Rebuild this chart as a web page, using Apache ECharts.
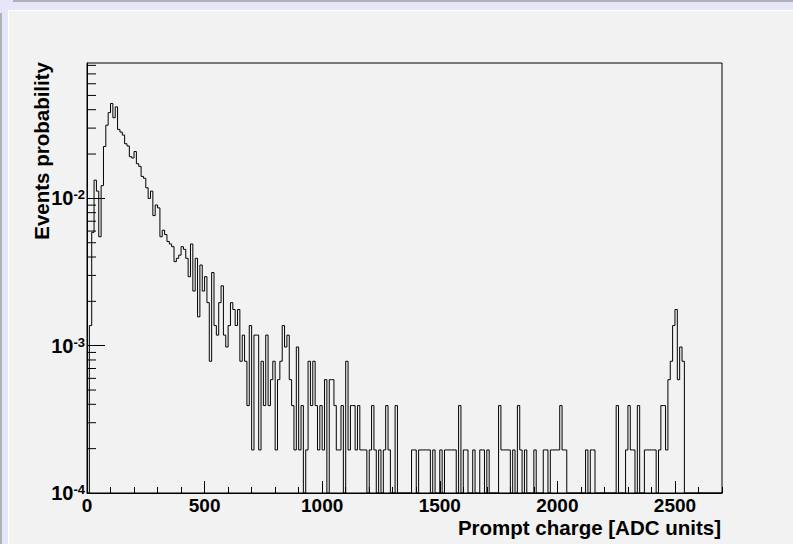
<!DOCTYPE html>
<html>
<head>
<meta charset="utf-8">
<script src="https://cdn.jsdelivr.net/npm/echarts@6/dist/echarts.min.js"></script>
<style>
html,body{margin:0;padding:0;}
#wrap{position:relative;width:793px;height:544px;background:#e6e6fa;overflow:hidden;}
#topstrip{position:absolute;left:13px;top:0;width:780px;height:2px;background:#b0b0b8;}
#leftstrip{position:absolute;left:0;top:13px;width:2px;height:531px;background:#b0b0b8;}
#whiteline{position:absolute;left:8px;top:10px;right:0;bottom:0;background:#ffffff;}
#canvasbg{position:absolute;left:9px;top:11px;right:0;bottom:0;background:#f2f2f2;}
#chart{position:absolute;left:0;top:0;width:793px;height:544px;}
</style>
</head>
<body>
<div id="wrap">
  <div id="topstrip"></div>
  <div id="leftstrip"></div>
  <div id="whiteline"></div>
  <div id="canvasbg"></div>
  <div id="chart"></div>
</div>
<script>
// ---- axis settings / labels ----
const binWidth = 10;              // ADC units per bin
const xMin = 0, xMax = 2700;
const yMin = 1e-4, yMax = 0.083;
const xTickLabels = [0, 500, 1000, 1500, 2000, 2500];
const yDecades = [1e-4, 1e-3, 1e-2];
const yMinorTicks = [2e-4,3e-4,4e-4,5e-4,6e-4,7e-4,8e-4,9e-4,
                     2e-3,3e-3,4e-3,5e-3,6e-3,7e-3,8e-3,9e-3,
                     2e-2,3e-2,4e-2,5e-2,6e-2,7e-2,8e-2];
const xTitle = 'Prompt charge [ADC units]';
const yTitle = 'Events probability';

// ---- histogram contents (events probability per 10-ADC bin) ----
// bins 0-59 (0-600 ADC)
const probPeak = [
  0, 0.00137, 0.00588, 0.0133, 0.0112, 0.00549, 0.0122, 0.0225, 0.0314, 0.0382,
  0.0441, 0.0353, 0.0418, 0.0294, 0.0282, 0.0269, 0.0235, 0.0227, 0.0192, 0.0188,
  0.0208, 0.0172, 0.0165, 0.0141, 0.0137, 0.0118, 0.0100, 0.0112, 0.00764, 0.00902,
  0.00862, 0.00549, 0.00608, 0.00568, 0.00510, 0.00490, 0.00470, 0.00372, 0.00392, 0.00412,
  0.00470, 0.00451, 0.00392, 0.00294, 0.00490, 0.00235, 0.00392, 0.00157, 0.00353, 0.00235,
  0.00294, 0.00196, 0.000784, 0.00314, 0.00137, 0.00118, 0.00196, 0.00255, 0.00118, 0.00098
];
// bins 60-149 (600-1500 ADC)
const probSlope = [
  0.00137, 0.00196, 0.00176, 0.00137, 0.00176, 0.000784, 0.00118, 0.000784, 0.000392, 0.00137,
  0.000196, 0.00118, 0.00118, 0.000196, 0.000784, 0.000392, 0.00118, 0.000392, 0.000588, 0.000784,
  0.000196, 0.000588, 0.000784, 0.00137, 0.00098, 0.00118, 0.000588, 0.000392, 0.000196, 0.00098,
  0.000196, 0.000392, 0, 0.000196, 0.000784, 0.000392, 0.000784, 0.000392, 0.000196, 0.000392,
  0.000196, 0.000588, 0, 0.000588, 0.000588, 0.000392, 0.000196, 0.000196, 0.000392, 0,
  0.000784, 0.000196, 0.000392, 0.000392, 0.000196, 0.000392, 0.000196, 0.000196, 0.000196, 0,
  0.000196, 0.000392, 0.000196, 0, 0.000196, 0, 0.000196, 0.000392, 0.000196, 0,
  0, 0.000392, 0, 0, 0, 0, 0, 0, 0.000196, 0.000196,
  0, 0.000196, 0.000196, 0.000196, 0.000196, 0.000196, 0, 0.000196, 0, 0
];
// bins 150-269 (1500-2700 ADC)
const probTail = [
  0.000196, 0, 0.000196, 0.000196, 0.000196, 0.000196, 0.000196, 0, 0.000392, 0,
  0.000196, 0.000196, 0, 0, 0.000196, 0, 0, 0.000196, 0.000196, 0,
  0.000196, 0, 0, 0, 0, 0.000392, 0.000196, 0.000196, 0.000196, 0.000196,
  0, 0.000196, 0, 0.000392, 0.000196, 0, 0.000196, 0, 0, 0,
  0.000196, 0, 0, 0, 0.000196, 0.000196, 0, 0.000196, 0.000196, 0.000196,
  0.000196, 0.000392, 0.000196, 0.000196, 0, 0, 0, 0, 0, 0,
  0, 0, 0.000196, 0, 0.000196, 0.000196, 0, 0, 0, 0,
  0, 0, 0, 0, 0, 0.000392, 0, 0, 0, 0.000196,
  0.000392, 0.000196, 0.000196, 0, 0.000392, 0, 0, 0.000196, 0.000196, 0.000196,
  0.000196, 0.000196, 0, 0.000196, 0.000392, 0.000392, 0.000196, 0.000588, 0.000784, 0.00137,
  0.00176, 0.000588, 0.00098, 0.000784, 0, 0, 0, 0, 0, 0,
  0, 0, 0, 0, 0, 0, 0, 0, 0, 0
];

// ---- build step-histogram points (bin low edges); empty bins drawn down to the axis floor like ROOT ----
const probAll = probPeak.concat(probSlope, probTail);
const histData = probAll.map((v, i) => [i * binWidth, v > 0 ? v : yMin]);
const lastV = probAll[probAll.length - 1];
histData.push([probAll.length * binWidth, lastV > 0 ? lastV : yMin]);

const FONT = '"Liberation Sans", Arial, Helvetica, sans-serif';

const chart = echarts.init(document.getElementById('chart'), null, {renderer: 'svg'});
chart.setOption({
  animation: false,
  backgroundColor: 'transparent',
  grid: {
    left: 87, right: 71, top: 63, bottom: 51,
    show: true, borderColor: '#000', borderWidth: 1, backgroundColor: 'transparent',
    containLabel: false, outerBoundsMode: 'none'
  },
  xAxis: [
    {
      type: 'value', min: xMin, max: xMax, interval: 500, position: 'bottom',
      axisLine: {show: true, onZero: false, lineStyle: {color: '#000', width: 1}},
      axisTick: {show: true, inside: true, length: 12, lineStyle: {color: '#000', width: 1}},
      minorTick: {show: false},
      splitLine: {show: false},
      axisLabel: {
        show: true, margin: 3, color: '#000', fontFamily: FONT, fontWeight: 'bold', fontSize: 19,
        lineHeight: 19, showMaxLabel: false,
        formatter: v => (xTickLabels.indexOf(v) >= 0 ? String(v) : '')
      }
    },
    {
      type: 'value', min: xMin, max: xMax, interval: 100, position: 'bottom',
      axisLine: {show: false, onZero: false},
      axisTick: {show: true, inside: true, length: 6, lineStyle: {color: '#000', width: 1}},
      axisLabel: {show: false},
      splitLine: {show: false}
    }
  ],
  yAxis: {
    type: 'log', logBase: 10, min: yMin, max: yMax,
    axisLine: {show: true, onZero: false, lineStyle: {color: '#000', width: 1}},
    axisTick: {show: true, inside: true, length: 18, lineStyle: {color: '#000', width: 1}},
    splitLine: {show: false},
    minorTick: {show: false},
    axisLabel: {
      show: true, margin: 2, showMaxLabel: false,
      formatter: v => {
        const e = Math.log10(v);
        const r = Math.round(e);
        if (Math.abs(e - r) > 1e-6) return '';
        if (!yDecades.some(d => Math.abs(Math.log10(d) - r) < 1e-6)) return '';
        return '{b|10}{s|' + r + '}';
      },
      rich: {
        b: {fontFamily: FONT, fontWeight: 'bold', fontSize: 20, color: '#000'},
        s: {fontFamily: FONT, fontWeight: 'bold', fontSize: 13, color: '#000', verticalAlign: 'top'}
      }
    }
  },
  graphic: [
    {
      type: 'text', x: 721, y: 527, silent: true,
      style: {text: xTitle, font: 'bold 20.5px ' + FONT, fill: '#000', align: 'right', verticalAlign: 'middle'}
    },
    {
      type: 'text', x: 41, y: 62, rotation: Math.PI / 2, silent: true,
      style: {text: yTitle, font: 'bold 20.5px ' + FONT, fill: '#000', align: 'right', verticalAlign: 'middle'}
    }
  ],
  series: [
    {
      name: 'histogram', type: 'line', xAxisIndex: 0, yAxisIndex: 0,
      data: histData, step: 'end', showSymbol: false, symbol: 'none',
      lineStyle: {color: '#000', width: 1}, silent: true, clip: true
    },
    {
      name: 'yMinorTicks', type: 'custom', xAxisIndex: 0, yAxisIndex: 0,
      data: yMinorTicks.map(v => [xMin, v]), silent: true, clip: false,
      renderItem: (params, api) => {
        const p = api.coord([api.value(0), api.value(1)]);
        return {type: 'line', shape: {x1: p[0], y1: p[1], x2: p[0] + 9, y2: p[1]},
                style: {stroke: '#000', lineWidth: 1}};
      }
    }
  ]
});
</script>
</body>
</html>
